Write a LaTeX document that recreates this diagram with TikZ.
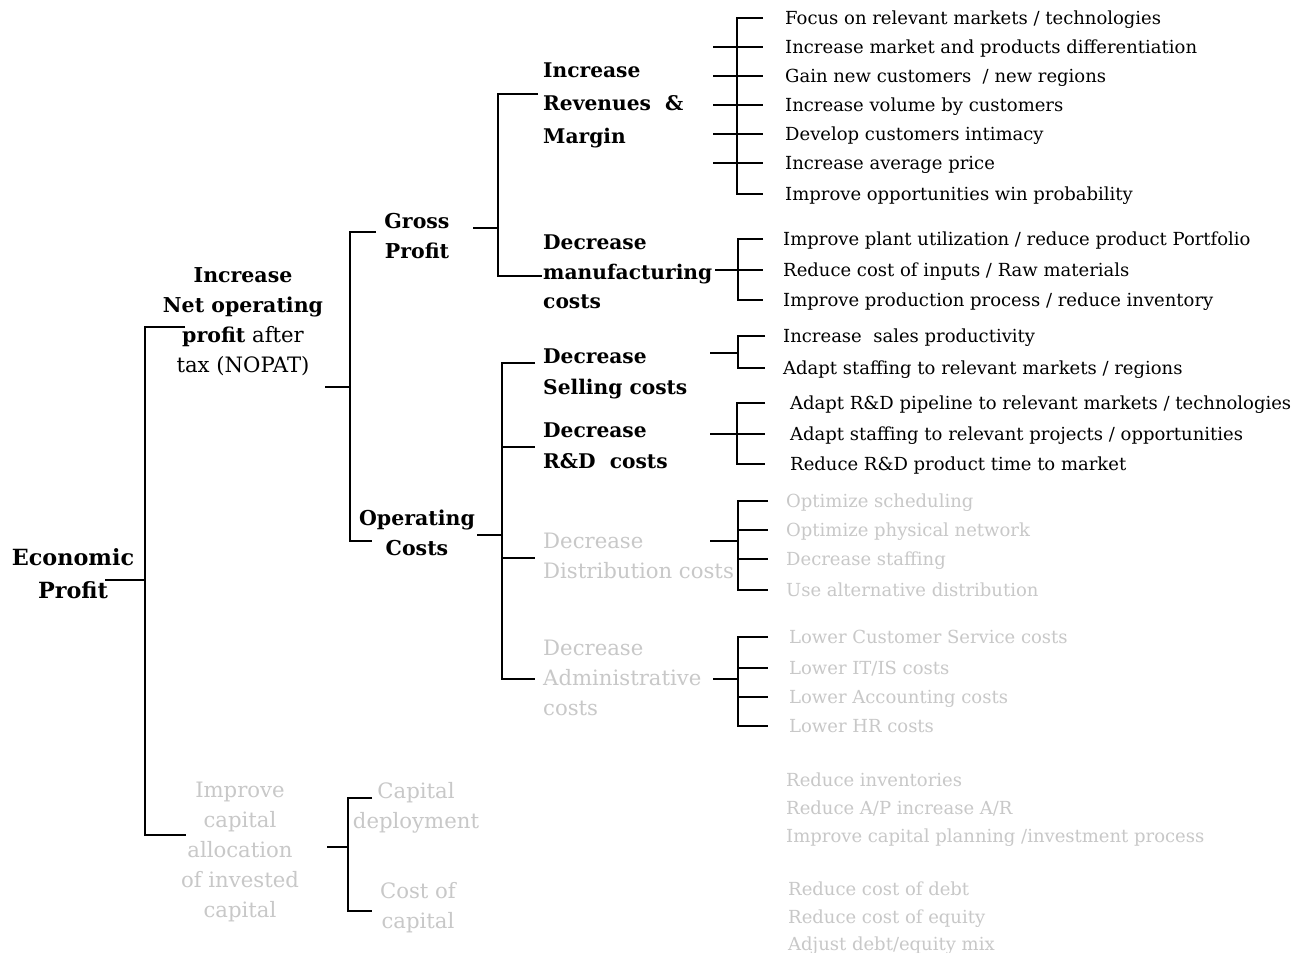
\documentclass[tikz,border=0pt]{standalone}
\usepackage{fontspec}
\setmainfont{DejaVu Serif}
\definecolor{lg}{RGB}{200,200,200}
\tikzset{
  br/.style={line width=2.8pt, line join=miter},
  leaf/.style={anchor=west, inner sep=0pt, text height=14.5pt, text depth=2.5pt, font=\fontsize{18}{21}\selectfont},
  gleaf/.style={leaf, text=lg},
  hdl/.style={anchor=west, inner sep=0pt, align=left, font=\bfseries\fontsize{20.2}{31}\selectfont},
  hdc/.style={anchor=center, inner sep=0pt, align=center, font=\bfseries\fontsize{20.5}{30}\selectfont},
  ghl/.style={anchor=west, inner sep=0pt, align=left, text=lg, font=\fontsize{21.2}{30}\selectfont},
  ghc/.style={anchor=center, inner sep=0pt, align=center, text=lg, font=\fontsize{21.2}{30}\selectfont},
}
\begin{document}
\begin{tikzpicture}[x=1pt,y=-1pt]
\useasboundingbox[fill=white] (0,0) rectangle (1291,953);

% ---------- headers ----------
\node[hdc, font=\bfseries\fontsize{22.3}{33}\selectfont] (ep) at (73,574) {Economic\\Profit};
\node[anchor=center, inner sep=0pt, align=center, font=\fontsize{21.2}{30}\selectfont] (nopat) at (243,322)
  {\textbf{\fontsize{20.5}{30}\selectfont Increase}\\\textbf{\fontsize{20.5}{30}\selectfont Net operating}\\\textbf{\fontsize{20.5}{30}\selectfont profit} after\\tax (NOPAT)};
\node[hdc] (gross) at (417,236) {Gross\\Profit};
\node[hdc] (opc) at (417,533) {Operating\\Costs};
\node[hdl, font=\bfseries\fontsize{20.2}{33}\selectfont] (rev) at (543,105) {Increase\\Revenues~~\&\\Margin};
\node[hdl, font=\bfseries\fontsize{20.2}{29.5}\selectfont] (mfg) at (543,272) {Decrease\\manufacturing\\costs};
\node[hdl] (sell) at (543,374) {Decrease\\Selling costs};
\node[hdl] (rnd) at (543,446) {Decrease\\R\&D~~costs};
\node[ghl] (dist) at (543,555.5) {Decrease\\Distribution costs};
\node[ghl] (adm) at (543,678) {Decrease\\Administrative\\costs};
\node[ghc] (cap) at (240,852) {Improve\\capital\\allocation\\of invested\\capital};
\node[ghc] (capdep) at (416,808) {Capital\\deployment};
\node[ghc] (coc) at (418,908) {Cost of\\capital};

% ---------- leaves ----------
\node[leaf] (r1) at (785,18) {Focus on relevant markets / technologies};
\node[leaf] (r2) at (785,47) {Increase market and products differentiation};
\node[leaf] (r3) at (785,76) {Gain new customers~~/ new regions};
\node[leaf] (r4) at (785,105) {Increase volume by customers};
\node[leaf] (r5) at (785,134) {Develop customers intimacy};
\node[leaf] (r6) at (785,163) {Increase average price};
\node[leaf] (r7) at (785,194) {Improve opportunities win probability};

\node[leaf] (m1) at (783,239) {Improve plant utilization / reduce product Portfolio};
\node[leaf] (m2) at (783,270) {Reduce cost of inputs / Raw materials};
\node[leaf] (m3) at (783,300) {Improve production process / reduce inventory};

\node[leaf] (s1) at (783,336) {Increase~~sales productivity};
\node[leaf] (s2) at (783,368) {Adapt staffing to relevant markets / regions};

\node[leaf] (d1) at (790,403) {Adapt R\&D pipeline to relevant markets / technologies};
\node[leaf] (d2) at (790,434) {Adapt staffing to relevant projects / opportunities};
\node[leaf] (d3) at (790,464) {Reduce R\&D product time to market};

\node[gleaf] (t1) at (786,501) {Optimize scheduling};
\node[gleaf] (t2) at (786,530) {Optimize physical network};
\node[gleaf] (t3) at (786,559) {Decrease staffing};
\node[gleaf] (t4) at (786,590) {Use alternative distribution};

\node[gleaf] (a1) at (789,637) {Lower Customer Service costs};
\node[gleaf] (a2) at (789,668) {Lower IT/IS costs};
\node[gleaf] (a3) at (789,697) {Lower Accounting costs};
\node[gleaf] (a4) at (789,726) {Lower HR costs};

\node[gleaf] (c1) at (786,780) {Reduce inventories};
\node[gleaf] (c2) at (786,808) {Reduce A/P increase A/R};
\node[gleaf] (c3) at (786,836) {Improve capital planning /investment process};
\node[gleaf] (c4) at (788,889) {Reduce cost of debt};
\node[gleaf] (c5) at (788,917) {Reduce cost of equity};
\node[gleaf] (c6) at (788,944) {Adjust debt/equity mix};

% ---------- junction coordinates ----------
\coordinate (epS) at (105,580);  \coordinate (epB) at (145,580);
\coordinate (nS) at (325,387);   \coordinate (nB) at (350,387);
\coordinate (gS) at (473,228);   \coordinate (gB) at (498,228);
\coordinate (oS) at (477,535);   \coordinate (oB) at (502,535);
\coordinate (sS) at (710,353);   \coordinate (sB) at (738,353);
\coordinate (tS) at (710,541);   \coordinate (tB) at (738,541);
\coordinate (aS) at (713,679);   \coordinate (aB) at (738,679);
\coordinate (kS) at (327,847);   \coordinate (kB) at (348,847);

% ---------- brackets ----------
% root
\draw[br] (epS) -- (epB);
\draw[br] (185,327) -| (epB) |- (186,835);
% NOPAT
\draw[br] (nS) -- (nB);
\draw[br] (376,232) -| (nB) |- (372,541);
% Gross profit
\draw[br] (gS) -- (gB);
\draw[br] (538,94) -| (gB) |- (542,276);
% Operating costs
\draw[br] (oS) -- (oB);
\draw[br] (535,363) -| (oB) |- (535,679);
\draw[br] (oB |- 0,447) -- (535,447);
\draw[br] (oB |- 0,558) -- (535,558);
% Revenues
\draw[br] ([xshift=-22pt]r1.west) -| ([xshift=-48pt]r7.west) -- ([xshift=-22pt]r7.west);
\foreach \n in {r2,r3,r4,r5,r6}{\draw[br] ([xshift=-72pt]\n.west) -- ([xshift=-22pt]\n.west);}
% Manufacturing
\draw[br] ([xshift=-20pt]m1.west) -| ([xshift=-45pt]m3.west) -- ([xshift=-20pt]m3.west);
\draw[br] ([xshift=-68pt]m2.west) -- ([xshift=-20pt]m2.west);
% Selling
\draw[br] (sS) -- (sB);
\draw[br] ([xshift=-18pt]s1.west) -| ([xshift=-45pt]s2.west) -- ([xshift=-18pt]s2.west);
% R&D
\draw[br] ([xshift=-25pt]d1.west) -| ([xshift=-53pt]d3.west) -- ([xshift=-25pt]d3.west);
\draw[br] ([xshift=-80pt]d2.west) -- ([xshift=-25pt]d2.west);
% Distribution
\draw[br] (tS) -- (tB);
\draw[br] ([xshift=-18pt]t1.west) -| ([xshift=-48pt]t4.west) -- ([xshift=-18pt]t4.west);
\foreach \n in {t2,t3}{\draw[br] ([xshift=-48pt]\n.west) -- ([xshift=-18pt]\n.west);}
% Administrative
\draw[br] (aS) -- (aB);
\draw[br] ([xshift=-21pt]a1.west) -| ([xshift=-51pt]a4.west) -- ([xshift=-21pt]a4.west);
\foreach \n in {a2,a3}{\draw[br] ([xshift=-51pt]\n.west) -- ([xshift=-21pt]\n.west);}
% Capital
\draw[br] (kS) -- (kB);
\draw[br] (372,798) -| (kB) |- (372,911);
\end{tikzpicture}
\end{document}
